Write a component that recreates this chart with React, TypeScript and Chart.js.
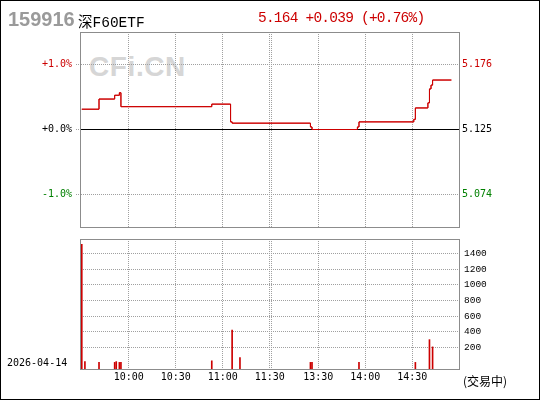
import React, { useEffect, useRef } from 'react';
import { Chart, registerables } from 'chart.js';

Chart.register(...registerables);

// ---- data ----
const stockCode = '159916';
const stockName = '深F60ETF';
const quoteText = '5.164 +0.039 (+0.76%)';
const dateText = '2026-04-14';
const statusText = '(交易中)';
const watermarkText = 'CFi.CN';

const prevClose = 5.125;

// minute index (0 = 9:30, 120 = 11:30, 121 = 13:00, 241 = 15:00) where price changes
const priceIdx = [0, 11, 21, 24, 25, 83, 95, 96, 146, 147, 176, 177, 212, 213, 221, 222, 223, 224, 236];
const priceVal = [5.141, 5.149, 5.152, 5.154, 5.143, 5.145, 5.131, 5.13, 5.127, 5.125, 5.127, 5.131, 5.133, 5.142, 5.146, 5.157, 5.16, 5.164, 5.164];

const volIdx = [0, 2, 11, 21, 22, 24, 25, 83, 96, 101, 146, 147, 177, 213, 222, 224];
const volVal = [1520, 15, 5, 5, 15, 5, 5, 25, 420, 68, 5, 5, 5, 5, 297, 204];

const timeTickIdx = [30, 60, 90, 120, 121, 151, 181, 211];
const timeTickLabels = ['10:00', '10:30', '11:00', '11:30', '', '13:30', '14:00', '14:30'];

const pctTicks = [1, 0, -1];
const pctLabels = ['+1.0%', '+0.0%', '-1.0%'];
const priceLabels = ['5.176', '5.125', '5.074'];

const volTicks = [200, 400, 600, 800, 1000, 1200, 1400];
const volLabels = ['200', '400', '600', '800', '1000', '1200', '1400'];

const pctRange = 1.5;
const volAxisMin = -80;
const volAxisMax = 1590;
const xMin = -0.5;
const xMax = 241.5;

// ---- styles ----
const RED = '#cc0000';
const GREEN = '#008000';
const GRID = '#a0a0a0';
const BOX = '#8c8c8c';
const MONO = "'DejaVu Sans Mono', monospace";

const boxPlugin = {
  id: 'boxPlugin',
  afterDraw(chart: any) {
    const { ctx, chartArea } = chart;
    const { left, right, top, bottom } = chartArea;
    ctx.save();
    ctx.strokeStyle = BOX;
    ctx.lineWidth = 1;
    ctx.setLineDash([]);
    ctx.strokeRect(Math.round(left) - 0.5, Math.round(top) + 0.5, Math.round(right - left), Math.round(bottom - top));
    ctx.restore();
  },
};

// zero (previous close) line: drawn after the grid, then the price line is drawn again on top
const zeroLinePlugin = {
  id: 'zeroLinePlugin',
  afterDatasetsDraw(chart: any) {
    const { ctx, chartArea } = chart;
    const scale = chart.scales.yPct;
    const y = Math.round(scale.getPixelForValue(0) - 0.5) + 0.5;
    ctx.save();
    ctx.strokeStyle = '#000';
    ctx.lineWidth = 1;
    ctx.setLineDash([]);
    ctx.beginPath();
    ctx.moveTo(chartArea.left, y);
    ctx.lineTo(chartArea.right, y);
    ctx.stroke();
    ctx.beginPath();
    ctx.rect(chartArea.left, chartArea.top, chartArea.right - chartArea.left, chartArea.bottom - chartArea.top);
    ctx.clip();
    const meta = chart.getDatasetMeta(0);
    meta.dataset.draw(ctx, chartArea);
    ctx.restore();
  },
};

const tickColor = (v: number, ref: number) => (v > ref + 1e-9 ? RED : v < ref - 1e-9 ? GREEN : '#000');

const fitWidth = (w: number) => (scale: any) => {
  scale.width = w;
  scale.paddingTop = 0;
  scale.paddingBottom = 0;
};

export default function App() {
  const topRef = useRef<HTMLCanvasElement>(null);
  const botRef = useRef<HTMLCanvasElement>(null);

  useEffect(() => {
    const xAxis = (showLabels: boolean, height: number) => ({
      type: 'linear' as const,
      min: xMin,
      max: xMax,
      offset: false,
      afterBuildTicks: (axis: any) => {
        axis.ticks = timeTickIdx.map((v) => ({ value: v }));
      },
      afterFit: (scale: any) => {
        scale.height = height;
        scale.paddingLeft = 0;
        scale.paddingRight = 0;
      },
      grid: { color: GRID, drawTicks: false, lineWidth: 1, offset: false },
      border: { display: false, dash: [1, 1] },
      ticks: {
        display: showLabels,
        autoSkip: false,
        maxRotation: 0,
        padding: 2,
        color: '#000',
        font: { family: MONO, size: 10 },
        callback: (_v: any, i: number) => timeTickLabels[i],
      },
    });

    const c1 = new Chart(topRef.current!, {
      type: 'line',
      data: {
        datasets: [
          {
            data: priceIdx.map((x, i) => ({ x, y: priceVal[i] })),
            borderColor: RED,
            borderWidth: 1,
            pointRadius: 0,
            stepped: true,
            fill: false,
            yAxisID: 'y',
          },
        ],
      },
      options: {
        responsive: false,
        devicePixelRatio: 1,
        animation: false,
        events: [],
        layout: { padding: { top: 32, left: 0, right: 0, bottom: 0 } },
        plugins: { legend: { display: false }, tooltip: { enabled: false } },
        scales: {
          x: xAxis(false, 5) as any,
          yPct: {
            type: 'linear',
            position: 'left',
            min: -pctRange,
            max: pctRange,
            afterBuildTicks: (axis: any) => {
              axis.ticks = pctTicks.map((v) => ({ value: v }));
            },
            afterFit: fitWidth(81),
            grid: {
              color: (ctx: any) => (ctx.tick && ctx.tick.value === 0 ? 'rgba(0,0,0,0)' : GRID),
              drawTicks: true,
              tickLength: 5,
              tickColor: GRID,
              tickBorderDash: [1, 1],
            },
            border: { display: false, dash: [1, 1] },
            ticks: {
              padding: 4,
              font: { family: MONO, size: 10 },
              color: (ctx: any) => tickColor(ctx.tick ? ctx.tick.value : 0, 0),
              callback: (_v: any, i: number) => pctLabels[i],
            },
          },
          y: {
            type: 'linear',
            position: 'right',
            min: prevClose * (1 - pctRange / 100),
            max: prevClose * (1 + pctRange / 100),
            afterBuildTicks: (axis: any) => {
              axis.ticks = pctTicks.map((p) => ({ value: prevClose * (1 + p / 100) }));
            },
            afterFit: fitWidth(80),
            grid: { drawOnChartArea: false, drawTicks: false },
            border: { display: false },
            ticks: {
              padding: 2,
              font: { family: MONO, size: 10 },
              color: (ctx: any) => tickColor(ctx.tick ? ctx.tick.value : prevClose, prevClose),
              callback: (_v: any, i: number) => priceLabels[i],
            },
          },
        },
      },
      plugins: [zeroLinePlugin, boxPlugin],
    });

    const c2 = new Chart(botRef.current!, {
      type: 'bar',
      data: {
        datasets: [
          {
            data: volIdx.map((x, i) => ({ x, y: volVal[i] })),
            backgroundColor: RED,
            borderWidth: 0,
            barThickness: 1,
            base: volAxisMin,
          } as any,
        ],
      },
      options: {
        responsive: false,
        devicePixelRatio: 1,
        animation: false,
        events: [],
        layout: { padding: { top: 7, left: 81, right: 0, bottom: 0 } },
        plugins: { legend: { display: false }, tooltip: { enabled: false } },
        scales: {
          x: xAxis(true, 31) as any,
          y: {
            type: 'linear',
            position: 'right',
            min: volAxisMin,
            max: volAxisMax,
            afterBuildTicks: (axis: any) => {
              axis.ticks = volTicks.map((v) => ({ value: v }));
            },
            afterFit: fitWidth(80),
            grid: { color: GRID, drawTicks: false },
            border: { display: false, dash: [1, 1] },
            ticks: {
              padding: 4,
              color: '#000',
              font: { family: "'Liberation Mono', monospace", size: 9.5 },
              callback: (_v: any, i: number) => volLabels[i],
            },
          },
        },
      },
      plugins: [boxPlugin],
    });

    return () => {
      c1.destroy();
      c2.destroy();
    };
  }, []);

  const abs = (left: number, top: number, extra: React.CSSProperties): React.CSSProperties => ({
    position: 'absolute',
    left,
    top,
    lineHeight: 1,
    whiteSpace: 'nowrap',
    margin: 0,
    ...extra,
  });

  return (
    <div
      style={{
        position: 'fixed',
        left: 0,
        top: 0,
        width: 540,
        height: 400,
        background: '#fff',
        overflow: 'hidden',
      }}
    >
      <div
        style={abs(89, 51, {
          font: "bold 28px 'Liberation Sans', Arial, sans-serif",
          color: '#d6d6d6',
          letterSpacing: '0.6px',
        })}
      >
        {watermarkText}
      </div>
      <canvas
        ref={topRef}
        width={540}
        height={232}
        style={{ position: 'absolute', left: 0, top: 0, width: 540, height: 232 }}
      />
      <canvas
        ref={botRef}
        width={540}
        height={168}
        style={{ position: 'absolute', left: 0, top: 232, width: 540, height: 168 }}
      />
      <div style={abs(8, 8, { font: "bold 20px 'Liberation Sans', Arial, sans-serif", color: '#9a9a9a' })}>
        {stockCode}
      </div>
      <div
        style={abs(78, 9.5, {
          font: "14.5px 'Liberation Mono', 'Noto Sans CJK SC', monospace",
          color: '#000',
        })}
      >
        {stockName}
      </div>
      <div
        style={abs(258, 9.5, {
          font: "14.5px 'Liberation Mono', monospace",
          color: RED,
          letterSpacing: '-0.78px',
        })}
      >
        {quoteText}
      </div>
      <div style={abs(7, 357, { font: "10px 'DejaVu Sans Mono', monospace", color: '#000' })}>{dateText}</div>
      <div style={abs(463, 372, { font: "12px 'Noto Sans CJK SC', sans-serif", color: '#000' })}>{statusText}</div>
      <div
        style={{
          position: 'absolute',
          left: 0,
          top: 0,
          width: 540,
          height: 400,
          border: '1px solid #000',
          boxSizing: 'border-box',
          pointerEvents: 'none',
        }}
      />
    </div>
  );
}
